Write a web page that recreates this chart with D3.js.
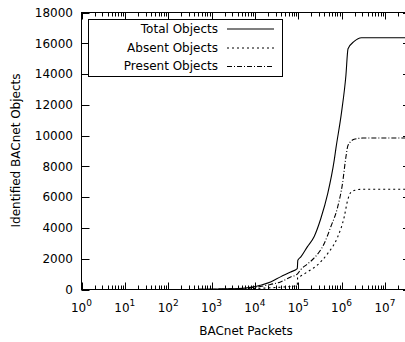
<!DOCTYPE html>
<html><head><meta charset="utf-8">
<script src="https://cdn.jsdelivr.net/npm/d3@7/dist/d3.min.js"></script>
<style>body{margin:0;background:#fff}svg{display:block}text{font-family:"DejaVu Sans",sans-serif;fill:#000}</style>
</head><body>
<svg id="c" width="405" height="342"></svg>
<script>
// ---- data (packets -> identified objects) ----
const totalPackets  = [500,2000,6000,9500,13500,23000,39000,67000,95000,98000,115000,162000,234000,331000,479000,676000,741000,1000000,1260000,1410000,1950000,2880000,40000000];
const totalValues   = [10,40,100,170,280,490,820,1140,1360,1900,2120,2770,3450,4600,6230,8390,9170,11530,13910,15640,16120,16360,16360];
const presentPackets= [500,2000,6000,13500,23000,39000,67000,95000,115000,162000,234000,398000,562000,813000,1050000,1260000,1410000,1950000,3090000,40000000];
const presentValues = [8,30,70,200,330,490,820,1000,1300,1650,2050,2990,4060,5360,6880,8610,9370,9760,9840,9840];
const absentPackets = [500,2000,6000,13500,23000,39000,67000,95000,97000,115000,162000,275000,479000,813000,1150000,1380000,1660000,2140000,2820000,40000000];
const absentValues  = [2,10,30,80,110,150,200,250,780,880,1140,1580,2340,3410,4710,5800,6330,6460,6510,6510];
const xTickExps = [0,1,2,3,4,5,6,7];
const yTicks = [0,2000,4000,6000,8000,10000,12000,14000,16000,18000];
const seriesNames = ["Total Objects","Absent Objects","Present Objects"];

const svg = d3.select("#c");
const L=81.5, R=411, T=12.5, B=289.5;
const x = d3.scaleLog().domain([1,4e7]).range([L,R]);
const y = d3.scaleLinear().domain([0,18000]).range([B,T]);

svg.append("rect").attr("width",405).attr("height",342).attr("fill","#fff");
svg.append("defs").append("clipPath").attr("id","clip").append("rect")
  .attr("x",L).attr("y",T).attr("width",R-L).attr("height",B-T);

const g = svg.append("g").attr("stroke","#000").attr("stroke-width",1).attr("fill","none");
g.append("rect").attr("x",L).attr("y",T).attr("width",R-L).attr("height",B-T);

const majors = new Set(xTickExps.map(e=>Math.pow(10,e)));
x.ticks().forEach(v=>{
  const px = Math.round(x(v))+0.5;
  const len = majors.has(v)?7:4;
  g.append("line").attr("x1",px).attr("x2",px).attr("y1",B).attr("y2",B-len);
  g.append("line").attr("x1",px).attr("x2",px).attr("y1",T).attr("y2",T+len);
});
yTicks.forEach(v=>{
  const py = Math.round(y(v))+0.5;
  g.append("line").attr("x1",L).attr("x2",L+8).attr("y1",py).attr("y2",py);
  g.append("line").attr("x1",R).attr("x2",R-8).attr("y1",py).attr("y2",py);
});

xTickExps.forEach(e=>{
  const t = svg.append("text").attr("x",x(Math.pow(10,e))).attr("y",311.5)
    .attr("text-anchor","middle").attr("font-size",12);
  t.append("tspan").text("10");
  t.append("tspan").attr("dy",-6).attr("font-size",9).text(e);
});
yTicks.forEach(v=>{
  svg.append("text").attr("x",73).attr("y",y(v)).attr("dy","0.36em")
    .attr("text-anchor","end").attr("font-size",12).text(v);
});
svg.append("text").attr("x",246).attr("y",335).attr("text-anchor","middle")
  .attr("font-size",12).text("BACnet Packets");
svg.append("text").attr("transform","translate(19.5,150.5) rotate(-90)")
  .attr("text-anchor","middle").attr("font-size",12).text("Identified BACnet Objects");

const dashes = ["none","2,3","5,2,1,2"];
const series = [
  {p:totalPackets,v:totalValues,d:dashes[0]},
  {p:absentPackets,v:absentValues,d:dashes[1]},
  {p:presentPackets,v:presentValues,d:dashes[2]}
];
const line = d3.line().x(d=>x(d[0])).y(d=>y(d[1])).curve(d3.curveMonotoneX);
const cg = svg.append("g").attr("clip-path","url(#clip)");
series.forEach(s=>{
  cg.append("path").datum(d3.zip(s.p,s.v)).attr("d",line)
    .attr("fill","none").attr("stroke","#000").attr("stroke-width",1.1)
    .attr("stroke-dasharray",s.d);
});

const lg = svg.append("g");
lg.append("rect").attr("x",88.5).attr("y",19.5).attr("width",194).attr("height",57)
  .attr("fill","#fff").attr("stroke","#000");
const rows=[28.5,47.5,66];
seriesNames.forEach((n,i)=>{
  lg.append("text").attr("x",218).attr("y",rows[i]).attr("dy","0.36em")
    .attr("text-anchor","end").attr("font-size",12).text(n);
  lg.append("line").attr("x1",227).attr("x2",274).attr("y1",rows[i]+0.5).attr("y2",rows[i]+0.5)
    .attr("stroke","#000").attr("stroke-width",1.1).attr("stroke-dasharray",dashes[i]);
});
</script>
</body></html>
